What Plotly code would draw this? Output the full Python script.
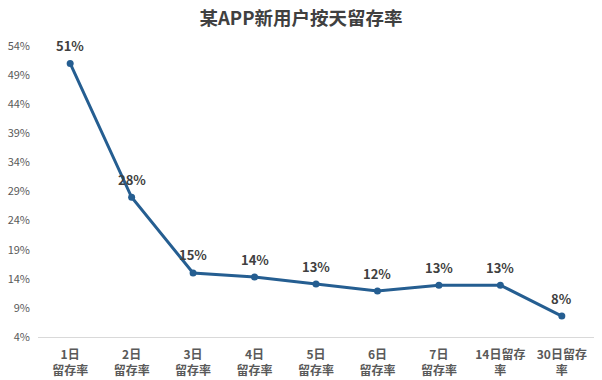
import plotly.graph_objects as go

categories = ["1日<br>留存率", "2日<br>留存率", "3日<br>留存率", "4日<br>留存率", "5日<br>留存率",
              "6日<br>留存率", "7日<br>留存率", "14日留存<br>率", "30日留存<br>率"]
retention = [0.51, 0.28, 0.15, 0.143, 0.131, 0.119, 0.129, 0.129, 0.076]
labels = ["51%", "28%", "15%", "14%", "13%", "12%", "13%", "13%", "8%"]
y_ticks = [0.04, 0.09, 0.14, 0.19, 0.24, 0.29, 0.34, 0.39, 0.44, 0.49, 0.54]
y_tick_text = ["4%", "9%", "14%", "19%", "24%", "29%", "34%", "39%", "44%", "49%", "54%"]

font_family = "Noto Sans CJK SC, Noto Sans, sans-serif"

fig = go.Figure()
fig.add_trace(go.Scatter(
    x=categories, y=retention, mode="lines+markers",
    line=dict(color="#255e91", width=3),
    marker=dict(color="#255e91", size=7),
    cliponaxis=False,
    hoverinfo="x+y",
))

for c, v, t in zip(categories, retention, labels):
    fig.add_annotation(x=c, y=v, text="<b>%s</b>" % t, showarrow=False,
                       yanchor="middle", xanchor="center", yshift=18,
                       font=dict(family=font_family, size=13, color="#404040"))

fig.update_layout(
    width=602, height=380,
    margin=dict(l=38, r=8, t=46, b=43),
    paper_bgcolor="white", plot_bgcolor="white",
    showlegend=False,
    title=dict(text="<b>某APP新用户按天留存率</b>", x=0.5, xanchor="center", y=0.952, yanchor="middle",
               font=dict(family=font_family, size=18.5, color="#404040")),
    xaxis=dict(
        type="category", showgrid=False, zeroline=False, automargin=False,
        showline=True, linecolor="#d9d9d9", linewidth=1,
        ticks="", tickfont=dict(family=font_family, size=12, color="#595959"),
        tickangle=0, fixedrange=True, ticklabelstandoff=7,
        tickvals=categories, ticktext=["<b>%s</b>" % c for c in categories],
    ),
    yaxis=dict(
        range=[0.04, 0.54], tickvals=y_ticks, ticktext=y_tick_text, automargin=False,
        showgrid=False, zeroline=False, showline=False, ticks="",
        tickfont=dict(family=font_family, size=11, color="#595959"),
        fixedrange=True, ticklabelstandoff=7,
    ),
)

fig.write_html("out.html", config={"displayModeBar": False},
               post_script="document.body.style.margin='0';document.body.style.overflow='hidden';")
